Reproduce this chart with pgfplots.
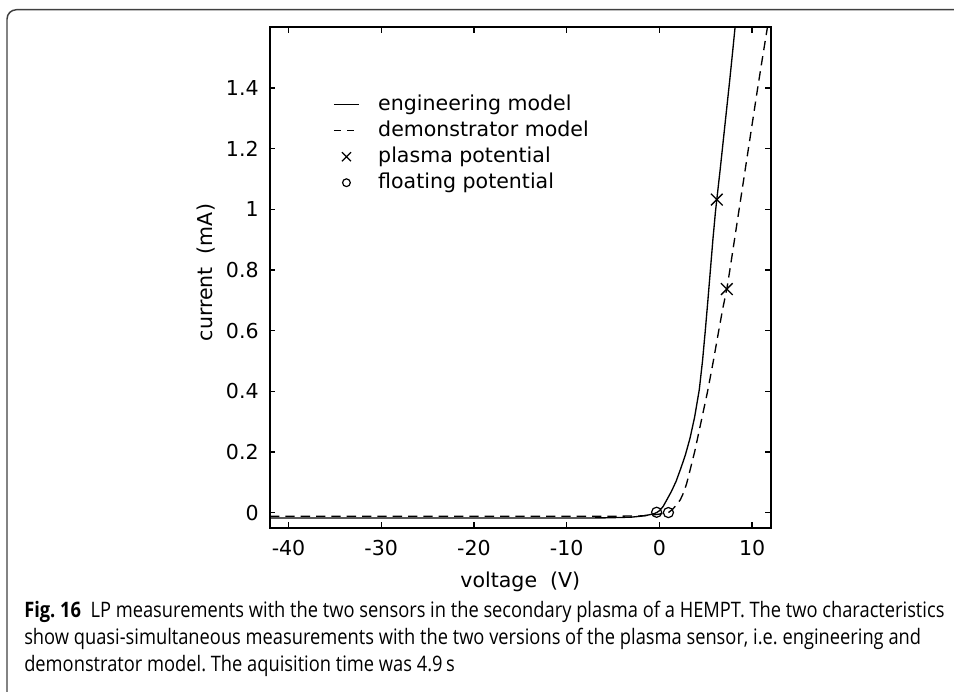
\documentclass[border=0pt]{standalone}
\usepackage{fontspec}
\setmainfont{DejaVu Sans}
\newfontfamily\capfont[FakeStretch=0.857]{Open Sans}
\usepackage{pgfplots}
\pgfplotsset{compat=1.18}

\newcommand{\plotfont}{\fontsize{15.4}{18}\selectfont}

\begin{document}
\frenchspacing
\begin{tikzpicture}
% page = 954 x 692 px at 0.75pt per px, origin top left
\useasboundingbox (0pt,0pt) rectangle (715.5pt,-519pt);

% frame of the figure box (only top and left show)
\draw[black!75, line width=1.1pt, rounded corners=7pt]
  (5.25pt,-530pt) -- (5.25pt,-7.3pt) -- (730pt,-7.3pt);

\begin{axis}[
    at={(202.5pt,-395.8pt)}, anchor=south west,
    scale only axis,
    width=375.5pt, height=375.3pt,
    xmin=-42, xmax=12,
    ymin=-0.05, ymax=1.6,
    xtick={-40,-30,-20,-10,0,10},
    xticklabels={-40,-30,-20,-10,0,10},
    ytick={0,0.2,0.4,0.6,0.8,1,1.2,1.4},
    yticklabels={0,0.2,0.4,0.6,0.8,1,1.2,1.4},
    tick align=inside,
    major tick length=4pt,
    tick style={line width=1pt, black},
    axis line style={line width=1.4pt},
    ticklabel style={font=\plotfont},
    xticklabel style={yshift=-6pt},
    yticklabel style={xshift=-5pt},
    label style={font=\plotfont},
    xlabel={voltage\ \ (V)},
    xlabel style={at={(axis description cs:0.5,-0.1085)}, anchor=center},
    ylabel={current\ \ (mA)},
    ylabel style={at={(axis description cs:-0.128,0.51)}, anchor=center},
    legend style={
        at={(axis description cs:0.1258,0.864)}, anchor=north west,
        draw=none, fill=none, inner sep=0pt, row sep=5pt,
        font=\plotfont,
        nodes={inner sep=0pt, text height=11pt, text depth=3.5pt, anchor=base west},
        /tikz/every odd column/.append style={column sep=14pt},
    },
    legend cell align=left,
]

% engineering model
\addplot[black, line width=1pt, forget plot] coordinates {
  (-42,-0.018) (-30,-0.018) (-20,-0.018) (-10,-0.018) (-6,-0.0175)
  (-4,-0.016) (-3,-0.015) (-2,-0.012) (-1.2,-0.008) (-0.6,-0.004)
  (-0.3,0.0) (0,0.006) (0.4,0.02) (0.8,0.042) (1.3,0.07) (1.8,0.103)
  (2.3,0.145) (2.8,0.19) (3.3,0.245) (3.8,0.315) (4.3,0.405) (4.65,0.5)
  (4.95,0.6) (5.23,0.7) (5.5,0.8) (5.77,0.9) (6.04,0.99) (6.19,1.032)
  (6.55,1.13) (6.9,1.23) (7.25,1.33) (7.6,1.43) (7.9,1.52) (8.16,1.6) (8.3,1.64)
};

% demonstrator model
\addplot[black, line width=1pt, dash pattern=on 7pt off 4.5pt, forget plot] coordinates {
  (-42,-0.012) (-20,-0.012) (-5,-0.012) (-2,-0.011) (-1,-0.009)
  (0,-0.005) (0.5,-0.002) (0.97,0.0) (1.4,0.01) (1.8,0.024) (2.25,0.042)
  (2.6,0.065) (2.95,0.097) (3.35,0.145) (3.8,0.2) (4.5,0.3) (5.2,0.4)
  (5.82,0.5) (6.4,0.6) (6.85,0.675) (7.27,0.737) (7.6,0.8) (8.1,0.9)
  (8.6,1.0) (9.1,1.1) (9.6,1.2) (10.1,1.3) (10.6,1.4) (11.12,1.5)
  (11.65,1.6) (11.85,1.64)
};

% plasma potential
\addplot[black, only marks, mark=x, mark size=6.2pt, line width=1pt, forget plot]
  coordinates {(6.19,1.032) (7.27,0.737)};

% floating potential
\addplot[black, only marks, mark=o, mark size=3.8pt, line width=0.9pt, forget plot]
  coordinates {(-0.3,0.001) (0.97,0.0)};

\addlegendimage{legend image code/.code={\draw[black, line width=1pt] (0pt,4.2pt) -- (18.75pt,4.2pt);}}
\addlegendentry{engineering model}
\addlegendimage{legend image code/.code={\draw[black, line width=1pt, dash pattern=on 5pt off 5pt] (0pt,4.2pt) -- (18.75pt,4.2pt);}}
\addlegendentry{demonstrator model}
\addlegendimage{legend image code/.code={\draw[black, line width=0.9pt] plot[mark=x, mark size=4.8pt] coordinates {(9.4pt,4.2pt)};}}
\addlegendentry{plasma potential}
\addlegendimage{legend image code/.code={\draw[black, line width=0.9pt] plot[mark=o, mark size=2.9pt] coordinates {(9.4pt,4.2pt)};}}
\addlegendentry{floating potential}
\end{axis}

% caption
\node[anchor=base west, inner sep=0pt, font=\capfont\fontsize{16}{19}\selectfont] at (18pt,-462.75pt)
  {\textbf{Fig. 16}\ \ LP measurements with the two sensors in the secondary plasma of a HEMPT. The two characteristics};
\node[anchor=base west, inner sep=0pt, font=\capfont\fontsize{16}{19}\selectfont] at (18pt,-483pt)
  {show quasi-simultaneous measurements with the two versions of the plasma sensor, i.e. engineering and};
\node[anchor=base west, inner sep=0pt, font=\capfont\fontsize{16}{19}\selectfont] at (18pt,-503.25pt)
  {demonstrator model. The aquisition time was 4.9\,s};
\end{tikzpicture}
\end{document}
